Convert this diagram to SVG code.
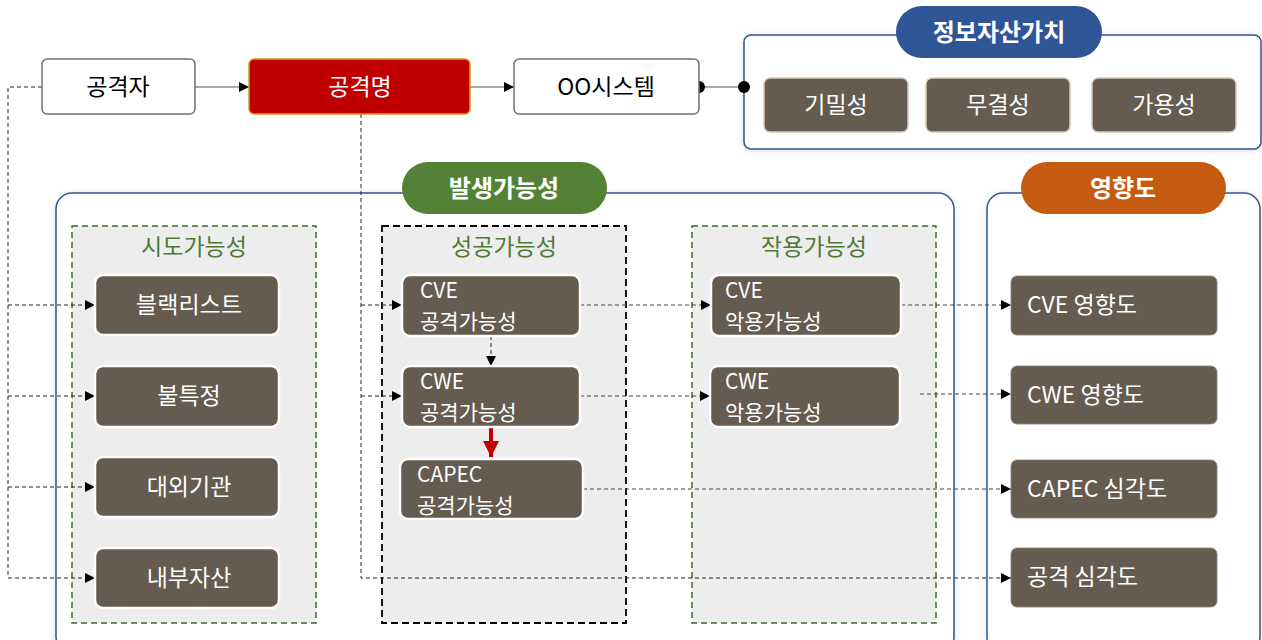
<svg xmlns="http://www.w3.org/2000/svg" width="1262" height="640" viewBox="0 0 1262 640">
<defs>
<marker id="ah" viewBox="0 0 10 10" refX="10" refY="5" markerWidth="10" markerHeight="10" markerUnits="userSpaceOnUse" orient="auto"><path d="M0,0 L10,5 L0,10 z" fill="#000"/></marker>
<marker id="ahr" viewBox="0 0 10 10" refX="10" refY="5" markerWidth="4" markerHeight="4" orient="auto"><path d="M0,0 L10,5 L0,10 z" fill="#c00000"/></marker>
<marker id="dot" viewBox="0 0 10 10" refX="5" refY="5" markerWidth="12" markerHeight="12" markerUnits="userSpaceOnUse"><circle cx="5" cy="5" r="5" fill="#000"/></marker>
<filter id="sh" x="-5%" y="-5%" width="110%" height="110%"><feDropShadow dx="0" dy="1" stdDeviation="3" flood-color="#000" flood-opacity="0.12"/></filter>
</defs>
<style>
text{font-family:"Noto Sans CJK KR","Noto Sans",sans-serif;}
.t{font-size:23px;fill:#000;text-anchor:middle;}
.w{font-size:23px;fill:#fff;text-anchor:middle;}
.wl{font-size:23px;fill:#fff;}
.w2{font-size:21px;fill:#fff;}
.pill{font-size:24px;fill:#fff;font-weight:bold;text-anchor:middle;}
.gt{font-size:23px;fill:#4f7a36;text-anchor:middle;}
.box{fill:#655b4f;stroke:#fff;stroke-width:2.5;}
.vbox{fill:#655b4f;stroke:#d6c9b8;stroke-width:1.5;}
.ibox{fill:#655b4f;stroke:#8a8075;stroke-width:0.8;}
.cont{fill:#fff;stroke:#2f5597;stroke-width:1.5;filter:url(#sh);}
.dl{fill:none;stroke:#222;stroke-width:1;stroke-dasharray:4,3;}
.dg{fill:none;stroke:#444;stroke-width:1;stroke-dasharray:4,3;}
</style>

<g id="containers">
<rect id="asset-container" class="cont" x="744" y="35" width="517" height="114" rx="7"/>
<rect id="likelihood-container" class="cont" x="56" y="193" width="898" height="460" rx="16"/>
<rect id="impact-container" class="cont" x="987" y="193" width="273" height="460" rx="16"/>
</g>

<g id="groups">
<g id="try-group"><rect x="72" y="226" width="244" height="397" fill="#ededed" stroke="#3d6b28" stroke-width="1.5" stroke-dasharray="6,4"/><text class="gt" x="194" y="255">시도가능성</text></g>
<g id="success-group"><rect x="382" y="226" width="244" height="397" fill="#ededed" stroke="#000" stroke-width="1.8" stroke-dasharray="7,4"/><text class="gt" x="504" y="255">성공가능성</text></g>
<g id="exploit-group"><rect x="692" y="226" width="244" height="397" fill="#ededed" stroke="#3d6b28" stroke-width="1.5" stroke-dasharray="6,4"/><text class="gt" x="814" y="255">작용가능성</text></g>
</g>

<g id="connectors">
<line x1="195" y1="87" x2="249" y2="87" stroke="#555" stroke-width="1.2" marker-end="url(#ah)"/>
<line x1="470" y1="87" x2="514" y2="87" stroke="#555" stroke-width="1.2" marker-end="url(#ah)"/>
<line x1="699" y1="87" x2="744" y2="87" stroke="#555" stroke-width="1.2" marker-start="url(#dot)" marker-end="url(#dot)"/>
<polyline class="dl" points="42,87 8,87 8,578"/>
<line class="dl" x1="8" y1="305" x2="95" y2="305" marker-end="url(#ah)"/>
<line class="dl" x1="8" y1="396" x2="95" y2="396" marker-end="url(#ah)"/>
<line class="dl" x1="8" y1="487" x2="95" y2="487" marker-end="url(#ah)"/>
<line class="dl" x1="8" y1="578" x2="95" y2="578" marker-end="url(#ah)"/>
<polyline class="dl" points="361,114 361,578 1011,578" marker-end="url(#ah)"/>
<line class="dl" x1="361" y1="305" x2="402" y2="305" marker-end="url(#ah)"/>
<line class="dl" x1="361" y1="396" x2="402" y2="396" marker-end="url(#ah)"/>
<line class="dl" x1="491" y1="336" x2="491" y2="366" marker-end="url(#ah)"/>
<line x1="491" y1="428" x2="491" y2="457" stroke="#c00000" stroke-width="4" marker-end="url(#ahr)"/>
<line class="dg" x1="580" y1="305" x2="711" y2="305" marker-end="url(#ah)"/>
<line class="dg" x1="580" y1="396" x2="710" y2="396" marker-end="url(#ah)"/>
<line class="dg" x1="901" y1="305" x2="1011" y2="305" marker-end="url(#ah)"/>
<line class="dg" x1="920" y1="394" x2="1011" y2="394" marker-end="url(#ah)"/>
<line class="dg" x1="583" y1="489" x2="1011" y2="489" marker-end="url(#ah)"/>
</g>

<g id="attacker"><rect x="42" y="59" width="153" height="55" rx="5" fill="#fff" stroke="#7a6e62" stroke-width="1.5"/><text class="t" x="118" y="95">공격자</text></g>
<g id="attack-name"><rect x="249" y="59" width="221" height="55" rx="5" fill="#c00000" stroke="#c9a227" stroke-width="1.5"/><text class="w" x="360" y="95">공격명</text></g>
<g id="system"><rect x="514" y="59" width="185" height="55" rx="5" fill="#fff" stroke="#7a6e62" stroke-width="1.5"/><text class="t" x="606" y="95">OO시스템</text></g>

<g id="asset-pill"><rect x="896" y="6" width="206" height="52" rx="26" fill="#2f5597"/><text class="pill" x="999" y="41">정보자산가치</text></g>
<g id="confidentiality"><rect class="vbox" x="764" y="78" width="144" height="54" rx="6"/><text class="w" x="836" y="113">기밀성</text></g>
<g id="integrity"><rect class="vbox" x="926" y="78" width="144" height="54" rx="6"/><text class="w" x="998" y="113">무결성</text></g>
<g id="availability"><rect class="vbox" x="1092" y="78" width="144" height="54" rx="6"/><text class="w" x="1164" y="113">가용성</text></g>

<g id="likelihood-pill"><rect x="402" y="162" width="205" height="52" rx="26" fill="#538135"/><text class="pill" x="504" y="197">발생가능성</text></g>
<g id="impact-pill"><rect x="1021" y="162" width="205" height="52" rx="26" fill="#c55a11"/><text class="pill" x="1123" y="197">영향도</text></g>

<g id="blacklist"><rect class="box" x="95" y="275" width="184" height="60" rx="8"/><text class="w" x="189" y="313">블랙리스트</text></g>
<g id="unspecified"><rect class="box" x="95" y="366" width="184" height="61" rx="8"/><text class="w" x="189" y="404">불특정</text></g>
<g id="external"><rect class="box" x="95" y="457" width="184" height="60" rx="8"/><text class="w" x="189" y="495">대외기관</text></g>
<g id="internal"><rect class="box" x="95" y="548" width="184" height="60" rx="8"/><text class="w" x="189" y="586">내부자산</text></g>

<g id="cve-attack"><rect class="box" x="402" y="275" width="178" height="61" rx="8"/><text class="w2" x="420" y="298">CVE</text><text class="w2" x="420" y="329">공격가능성</text></g>
<g id="cwe-attack"><rect class="box" x="402" y="366" width="178" height="61" rx="8"/><text class="w2" x="420" y="389">CWE</text><text class="w2" x="420" y="420">공격가능성</text></g>
<g id="capec-attack"><rect class="box" x="400" y="459" width="183" height="60" rx="8"/><text class="w2" x="417" y="482">CAPEC</text><text class="w2" x="417" y="513">공격가능성</text></g>

<g id="cve-exploit"><rect class="box" x="711" y="275" width="190" height="61" rx="8"/><text class="w2" x="725" y="298">CVE</text><text class="w2" x="725" y="329">악용가능성</text></g>
<g id="cwe-exploit"><rect class="box" x="710" y="366" width="190" height="61" rx="8"/><text class="w2" x="725" y="389">CWE</text><text class="w2" x="725" y="420">악용가능성</text></g>

<g id="cve-impact"><rect class="ibox" x="1011" y="276" width="206" height="59" rx="6"/><text class="wl" x="1027" y="313">CVE 영향도</text></g>
<g id="cwe-impact"><rect class="ibox" x="1011" y="366" width="206" height="58" rx="6"/><text class="wl" x="1027" y="403">CWE 영향도</text></g>
<g id="capec-severity"><rect class="ibox" x="1011" y="460" width="206" height="58" rx="6"/><text class="wl" x="1027" y="497">CAPEC 심각도</text></g>
<g id="attack-severity"><rect class="ibox" x="1011" y="548" width="206" height="59" rx="6"/><text class="wl" x="1027" y="585">공격 심각도</text></g>
</svg>
